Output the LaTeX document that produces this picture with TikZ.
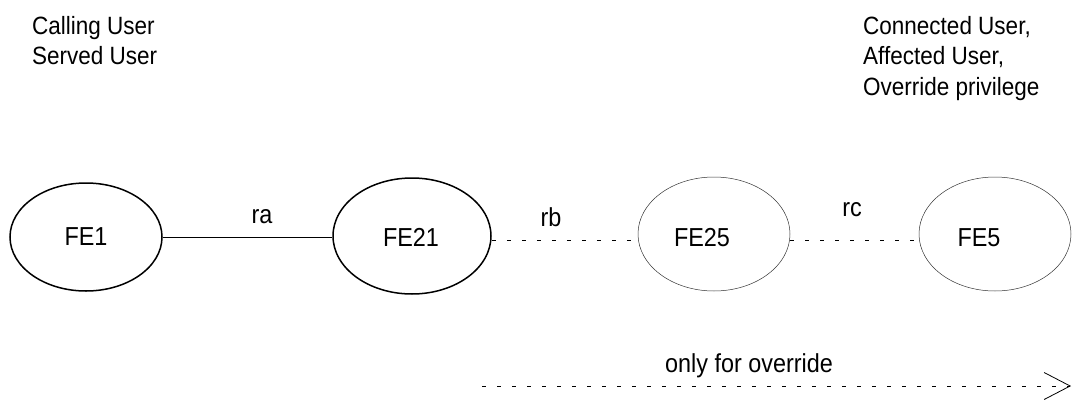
\documentclass[tikz,border=0pt]{standalone}
\usepackage{fontspec}
\setmainfont[FakeStretch=0.9]{Liberation Sans}
\usetikzlibrary{shapes.geometric,arrows.meta}
\tikzset{
  feA/.style={ellipse, draw=black, line width=1.5pt, inner sep=0pt},
  feB/.style={ellipse, draw=black!80, line width=0.5pt, inner sep=0pt},
  txt/.style={font=\fontsize{25}{30.5}\selectfont, inner sep=0pt},
  lbl/.style={font=\fontsize{26}{31}\selectfont, inner sep=0pt},
  dashline/.style={line width=0.6pt, dash pattern=on 4pt off 11pt},
}
\begin{document}
\begin{tikzpicture}[x=1pt,y=-1pt]
\useasboundingbox (0,0) rectangle (1072,402);
% top labels
\node[txt, anchor=north west, align=left] (calling) at (32,16) {Calling User\\Served User};
\node[txt, anchor=north west, align=left] (connected) at (863,16) {Connected User,\\Affected User,\\Override privilege};
% ellipses
\node[feA, minimum width=152pt, minimum height=108pt] (fe1) at (86,237) {};
\node[lbl] (fe1t) at (86,237) {FE1};
\node[feA, minimum width=158pt, minimum height=116pt] (fe21) at (412,236) {};
\node[lbl] (fe21t) at (411,237) {FE21};
\node[feB, minimum width=152pt, minimum height=114pt] (fe25) at (714,234) {};
\node[lbl] (fe25t) at (702,238) {FE25};
\node[feB, minimum width=152pt, minimum height=114pt] (fe5) at (995,234) {};
\node[lbl] (fe5t) at (979,238) {FE5};
% connectors
\draw[line width=0.8pt] (fe1.east) -- (fe1.east -| fe21.west);
\draw[dashline] ([yshift=-4pt]fe21.east) -- ([yshift=-4pt]fe21.east -| fe25.west);
\draw[dashline] ([yshift=-6pt]fe25.east) -- ([yshift=-6pt]fe25.east -| fe5.west);
\node[lbl] (ra) at (262,217) {ra};
\node[lbl] (rb) at (551,217) {rb};
\node[lbl] (rc) at (852,210) {rc};
% bottom arrow
\coordinate (os) at (482,386);
\coordinate (oe) at (1071,386);
\draw[dashline, -{Straight Barb[length=26pt,width=27pt,line width=0.8pt]}] (os) -- (oe);
\node[lbl] (only) at (749,366) {only for override};
\end{tikzpicture}
\end{document}
